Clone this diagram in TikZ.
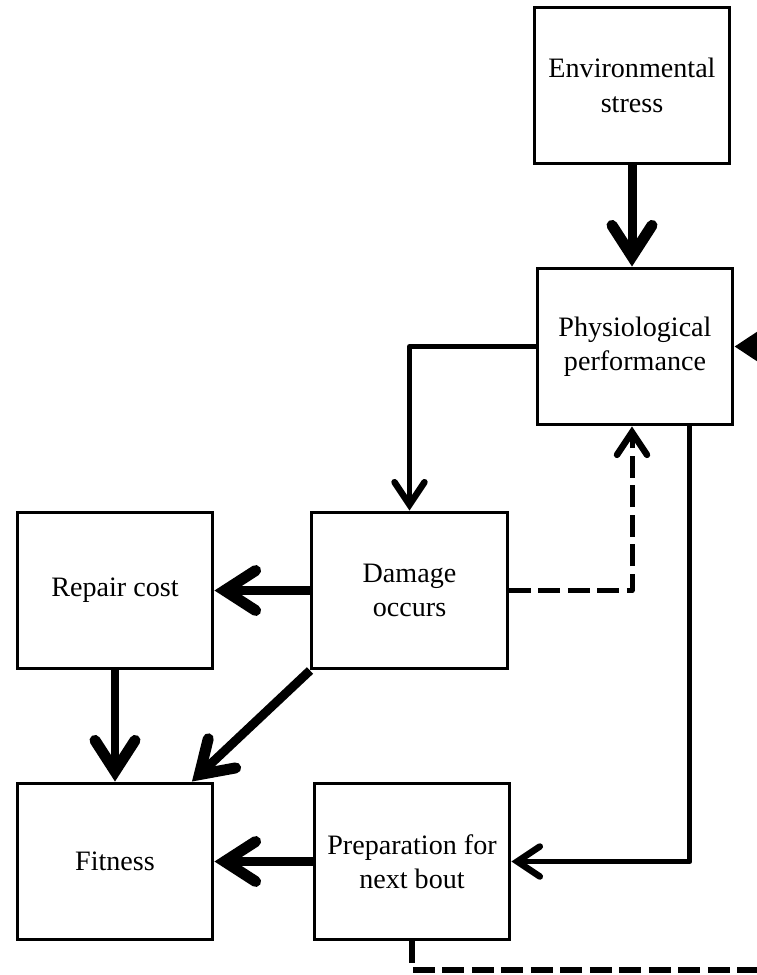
\documentclass[tikz,border=0pt]{standalone}
\usepackage{fontspec}
\setmainfont{Liberation Serif}
\usetikzlibrary{arrows.meta,positioning}

\begin{document}
\begin{tikzpicture}[
    x=0.02cm, y=-0.02cm,
    box/.style={draw, line width=0.06cm, minimum width=3.92cm, minimum height=3.14cm,
      inner sep=0pt, align=center, font=\fontsize{16}{19.5}\selectfont},
    bigarrow/.style={line width=0.18cm, line join=round,
      -{Straight Barb[length=0.62cm,width=0.8cm,line width=0.22cm,line cap=round]}},
    midarrow/.style={line width=0.1cm, line join=round,
      -{Straight Barb[length=0.45cm,width=0.6cm,line width=0.13cm,line cap=round]}},
    dashline/.style={line width=0.13cm, dash pattern=on 0.44cm off 0.15cm},
    ]
    \useasboundingbox (0,0) rectangle (757,975);
    \clip (0,0) rectangle (757,975);
    \node[box] (env) at (632,85.5) {Environmental\\stress};
    \node[box] (perf) at (635,346.5) {Physiological\\performance};
    \node[box] (damage) at (409.5,590.5) {Damage\\occurs};
    \node[box] (repair) at (115,590.5) {Repair cost};
    \node[box] (fit) at (115,861.5) {Fitness};
    \node[box] (prep) at (412,861.5) {Preparation for\\next bout};
    \coordinate (back) at (780,970);

    \draw[bigarrow] (env.south) -- (env.south |- perf.north);
    \draw[midarrow] (perf.west) -| (damage.north);
    \draw[bigarrow] (damage) -- (repair);
    \draw[dashline, midarrow] (damage.east) -| ([xshift=-0.06cm]perf.south);
    \draw[bigarrow] (repair) -- (fit);
    \draw[bigarrow] (damage.south west) -- ([xshift=-0.45cm]fit.north east);
    \draw[midarrow] ([xshift=1.1cm]perf.south) |- (prep.east);
    \draw[bigarrow] (prep) -- (fit);
    \draw[dashline, -{Triangle[length=0.6cm,width=0.75cm]}]
      (prep.south) |- (back) |- (perf.east);
\end{tikzpicture}
\end{document}
